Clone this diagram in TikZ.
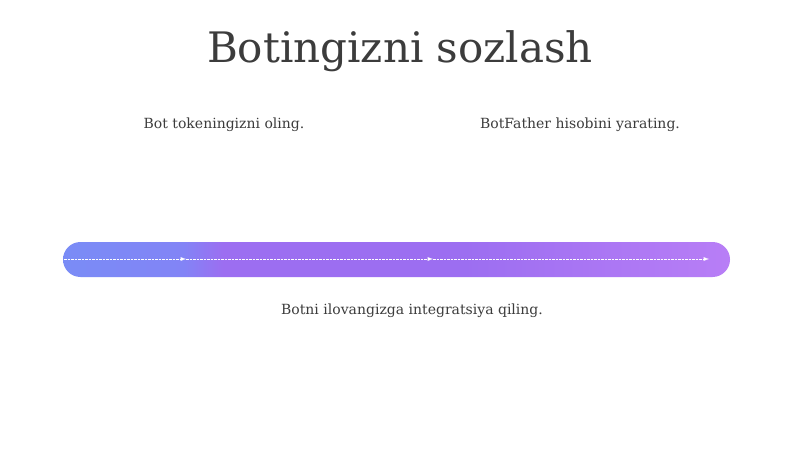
\documentclass[tikz,border=0pt]{standalone}
\usepackage{fontspec}
\setmainfont{DejaVu Serif}
\usetikzlibrary{arrows}

\definecolor{textgray}{HTML}{3C3C3C}
\definecolor{barleft}{RGB}{122,140,246}
\definecolor{barblue}{RGB}{130,132,246}
\definecolor{barmid}{RGB}{156,110,241}
\definecolor{barright}{RGB}{184,126,246}
\pgfdeclarehorizontalshading{barShade}{100bp}{color(0bp)=(barleft); color(25bp)=(barleft); color(34bp)=(barblue); color(37bp)=(barmid); color(55bp)=(barmid); color(75bp)=(barright); color(100bp)=(barright)}

\begin{document}
\begin{tikzpicture}[x=1pt, y=-1pt]
	\tikzstyle{titleStyle} = [text = textgray, anchor = base, inner sep = 0pt, font = \fontsize{42}{50}\selectfont]
	\tikzstyle{stepStyle} = [text = textgray, anchor = base, inner sep = 0pt, font = \fontsize{14}{17}\selectfont]
	\tikzstyle{barStyle} = [rounded corners = 17.5pt, shading = barShade]
	\tikzstyle{flowStyle} = [white, line width = 0.9pt, dash pattern = on 2.5pt off 1pt, -latex]
	\useasboundingbox[fill = white] (0,0) rectangle (800,449);
	\node[titleStyle] (title) at (400,63) {Botingizni sozlash};
	\node[stepStyle] (s1) at (224,129) {Bot tokeningizni oling.};
	\node[stepStyle] (s2) at (580,129) {BotFather hisobini yarating.};
	\node[stepStyle] (s3) at (412,314) {Botni ilovangizga integratsiya qiling.};
	\path[barStyle] (63,242) rectangle (730,277);
	\coordinate (p0) at (64,259);
	\coordinate (p1) at (186,259);
	\coordinate (p2) at (433,259);
	\coordinate (p3) at (709,259);
	\draw[flowStyle] (p0) -- (p1);
	\draw[flowStyle] (p1) -- (p2);
	\draw[flowStyle] (p2) -- (p3);
\end{tikzpicture}
\end{document}
